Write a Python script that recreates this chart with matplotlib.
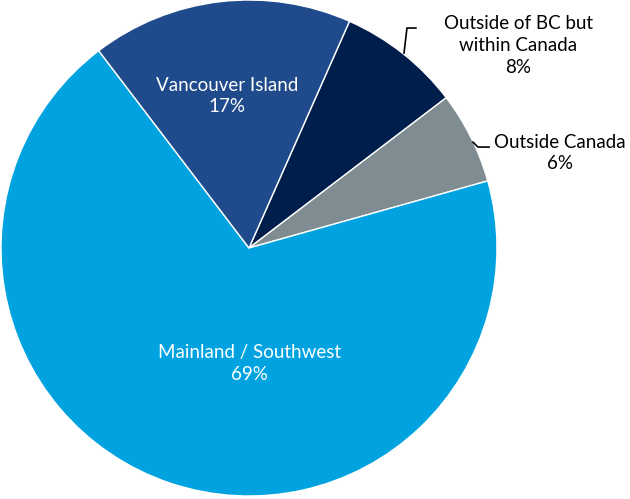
import matplotlib.pyplot as plt

# Data (clockwise from the Outside BC slice)
regions = ['Outside of BC but\nwithin Canada', 'Outside Canada', 'Mainland / Southwest', 'Vancouver Island']
shares = [8, 6, 69, 17]
colors = ['#001E4B', '#7F8C91', '#00A3E0', '#1F4A8C']

plt.rcParams['font.family'] = ['Lato', 'DejaVu Sans']

fig = plt.figure(figsize=(6.30, 4.99), dpi=100)
ax = fig.add_axes([0, 0, 1, 1])

wedges, _ = ax.pie(shares, colors=colors, startangle=66.1, counterclock=False,
                   radius=1.0, center=(0, 0),
                   wedgeprops=dict(edgecolor='white', linewidth=1))

ax.set_xlim(-249 / 248, (630 - 249) / 248)
ax.set_ylim((248 - 499) / 248, 248 / 248)
ax.set_aspect('auto')
ax.axis('off')

fs = 13.5
ls = 1.35
# inside labels
ax.text(-0.089, 0.613, f'{regions[3]}\n{shares[3]}%', color='white', ha='center', va='center',
        fontsize=fs, linespacing=ls)
ax.text(0.0, -0.464, f'{regions[2]}\n{shares[2]}%', color='white', ha='center', va='center',
        fontsize=fs, linespacing=ls)

# outside labels with leader lines
ax.text(1.085, 0.818, f'{regions[0]}\n{shares[0]}%', color='black', ha='center', va='center',
        fontsize=fs, linespacing=ls)
ax.plot([0.625, 0.637, 0.673], [0.786, 0.887, 0.887], color='black', linewidth=1.2)

ax.text(1.254, 0.383, f'{regions[1]}\n{shares[1]}%', color='black', ha='center', va='center',
        fontsize=fs, linespacing=ls)
ax.plot([0.903, 0.923, 0.968], [0.427, 0.407, 0.407], color='black', linewidth=1.2)

plt.savefig('out.png', dpi=100)
